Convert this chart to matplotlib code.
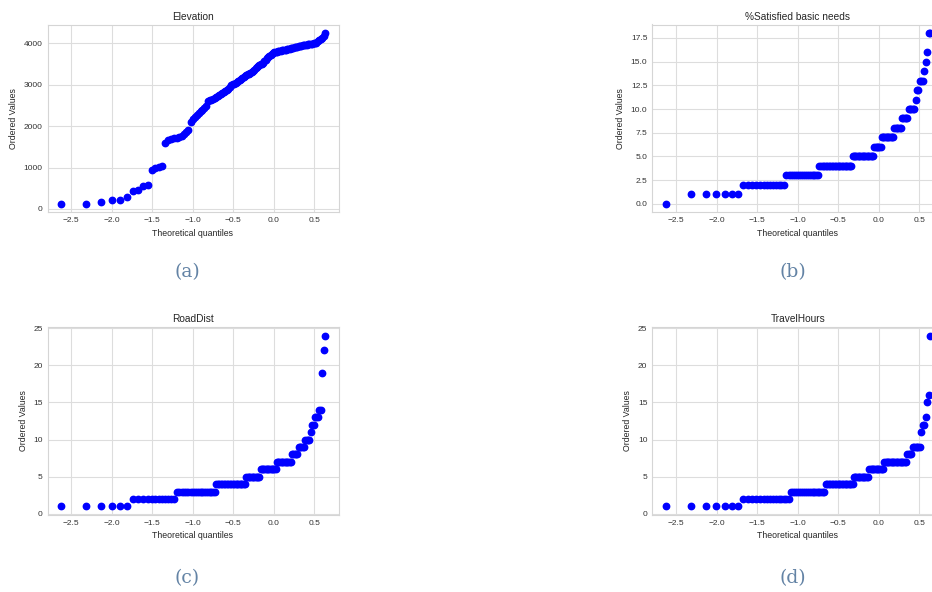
import matplotlib.pyplot as plt
import numpy as np
import seaborn as sns
from statistics import NormalDist
from matplotlib.ticker import MultipleLocator

sns.set_style('whitegrid')
plt.rcParams['font.family'] = ['Liberation Sans', 'DejaVu Sans']

# rows with no value: they count in the quantiles but are not drawn
n_missing = 42

# sorted elevation values (m)
elevation = [120, 130, 160, 220, 220, 300, 430, 460, 550, 580,
             930, 1000, 1020, 1040, 1600, 1660, 1690, 1710, 1720, 1730,
             1760, 1800, 1850, 1900, 2100, 2180, 2230, 2270, 2310, 2360,
             2400, 2440, 2480, 2600, 2630, 2640, 2660, 2680, 2700, 2720,
             2750, 2780, 2800, 2830, 2850, 2870, 2900, 2950, 2990, 3010,
             3020, 3040, 3060, 3090, 3120, 3150, 3170, 3190, 3210, 3230,
             3250, 3270, 3290, 3310, 3330, 3360, 3400, 3440, 3460, 3480,
             3490, 3510, 3530, 3580, 3610, 3640, 3670, 3700, 3720, 3740,
             3760, 3780, 3790, 3800, 3810, 3815, 3820, 3830, 3835, 3840,
             3845, 3855, 3860, 3870, 3880, 3890, 3900, 3905, 3910, 3920,
             3925, 3930, 3940, 3950, 3955, 3960, 3970, 3980, 3985, 3990,
             3995, 4000, 4005, 4020, 4050, 4075, 4100, 4140, 4180, 4250]

# the other columns hold whole numbers: value -> how many rows
satisfied_values = [0, 1, 2, 3, 4, 5, 6, 7, 8, 9, 10, 11, 12, 13, 14, 15, 16, 18]
satisfied_counts = [1, 6, 13, 17, 23, 17, 6, 10, 6, 5, 5, 1, 2, 3, 1, 1, 1, 2]

road_values = [1, 2, 3, 4, 5, 6, 7, 8, 9, 10, 11, 12, 13, 14, 19, 22, 24]
road_counts = [6, 12, 20, 21, 11, 13, 12, 5, 5, 4, 1, 2, 3, 2, 1, 1, 1]

travel_values = [1, 2, 3, 4, 5, 6, 7, 8, 9, 11, 12, 13, 15, 16, 24]
travel_counts = [7, 15, 19, 20, 12, 12, 18, 4, 6, 1, 2, 1, 1, 1, 1]

titles = ['Elevation', '%Satisfied basic needs', 'RoadDist', 'TravelHours']
captions = ['(a)', '(b)', '(c)', '(d)']


def theoretical_quantiles(n):
    # Filliben order statistic medians, as scipy.stats.probplot uses
    i = np.arange(1, n + 1)
    m = (i - 0.3175) / (n + 0.365)
    m[0] = 1 - 0.5 ** (1 / n)
    m[-1] = 0.5 ** (1 / n)
    return np.array([NormalDist().inv_cdf(p) for p in m])


series = [np.array(elevation, dtype=float),
          np.repeat(satisfied_values, satisfied_counts).astype(float),
          np.repeat(road_values, road_counts).astype(float),
          np.repeat(travel_values, travel_counts).astype(float)]
y_steps = [1000, 2.5, 5, 5]

fig = plt.figure(figsize=(9.32, 5.92), dpi=100)
W, H = 932, 592
boxes = [(47.5, 24.5), (652.3, 24.5), (47.5, 327), (652.3, 327)]
caption_pos = [(187, 272), (793, 272), (187, 578), (793, 578)]

for k in range(4):
    left, top = boxes[k]
    ax = fig.add_axes([left / W, 1 - (top + 188) / H, 291 / W, 188 / H])
    y = series[k]
    x = theoretical_quantiles(len(y) + n_missing)[:len(y)]
    ax.plot(x, y, 'bo', markersize=4.6)
    ax.set_title(titles[k], fontsize=7.3, color='.15', pad=3.5)
    ax.set_xlabel('Theoretical quantiles', fontsize=6.3, color='.15', labelpad=3)
    ax.set_ylabel('Ordered Values', fontsize=6.3, color='.15', labelpad=4)
    ax.xaxis.set_major_locator(MultipleLocator(0.5))
    ax.yaxis.set_major_locator(MultipleLocator(y_steps[k]))
    ax.tick_params(labelsize=6, labelcolor='.2', length=0, pad=3.5)
    ax.grid(color='#dddddd', lw=0.8)
    for s in ax.spines.values():
        s.set_color('#d5d5d5')
        s.set_linewidth(0.8)
    cx, cy = caption_pos[k]
    fig.text(cx / W, 1 - cy / H, captions[k], ha='center', va='center',
             family='DejaVu Serif', fontsize=13.5, color='#6383a5')

fig.savefig('out.png', dpi=100)
